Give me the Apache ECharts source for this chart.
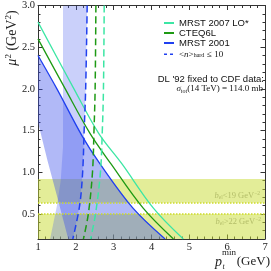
<!DOCTYPE html>
<html><head><meta charset="utf-8">
<script src="https://cdn.jsdelivr.net/npm/echarts@6/dist/echarts.min.js"></script>
<style>html,body{margin:0;padding:0;background:#fff}#c{width:271px;height:271px}</style>
</head><body><div id="c"></div>
<script>
// ---- data ----
const xTicks = [1, 2, 3, 4, 5, 6, 7];
const yTickLabels = [0.5, 1.0, 1.5, 2.0, 2.5, 3.0];
const mrst2007 = [[1.0,2.8],[1.95,2.0],[2.6,1.47],[3.22,1.1],[4.05,0.57],[4.84,0.2]];
const cteq6l   = [[1.0,2.6],[1.72,2.0],[2.37,1.47],[2.93,1.1],[3.78,0.57],[4.58,0.2]];
const mrst2001 = [[1.0,2.4],[1.5,2.0],[2.16,1.44],[2.64,1.1],[3.51,0.57],[4.36,0.2]];
const nhard2001 = [[2.30,3.0],[2.26,2.0],[2.22,1.5],[2.18,1.0],[2.1,0.6],[1.92,0.2]];
const nhardCteq = [[2.53,3.0],[2.51,2.0],[2.48,1.5],[2.44,1.0],[2.33,0.5],[2.2,0.2]];
const nhard2007 = [[2.75,3.0],[2.73,2.0],[2.7,1.5],[2.65,1.0],[2.52,0.5],[2.39,0.2]];
const verticalBandLeft = [[1.66,3.0],[1.66,1.3],[1.6,0.9],[1.5,0.6],[1.32,0.2]];
const diagBandLower = [[1.0,1.6],[1.25,1.14],[1.5,0.72],[1.8,0.2]];
const bandSmallB = [0.635, 0.92];   // b_el < 19
const bandLargeB = [0.2, 0.5];      // b_el > 22

const SERIF = '"Liberation Serif", "DejaVu Serif", serif';
const SANS = '"Liberation Sans", Arial, sans-serif';

const chart = echarts.init(document.getElementById('c'), null, {renderer: 'canvas'});

function poly(points, color, z) {
  return {
    type: 'custom', coordinateSystem: 'cartesian2d', clip: true, silent: true, z: z,
    data: [[1, 1]],
    renderItem: (params, api) => ({
      type: 'polygon',
      shape: {points: points.map(p => api.coord(p))},
      style: {fill: color}
    })
  };
}
function line(name, data, color, dashed) {
  return {
    name: name, type: 'line', data: data, smooth: 0.35, symbol: 'none', clip: true, z: 5,
    lineStyle: {color: color, width: dashed ? 1.5 : 1.3, type: dashed ? [7, 4] : 'solid'},
    itemStyle: {color: color}
  };
}

const vertPoly = verticalBandLeft.concat(nhard2001.slice().reverse());
const diagPoly = mrst2001.concat(diagBandLower.slice().reverse());

const majorY = {inside: true, length: 4.5, customValues: yTickLabels, lineStyle: {color: '#333'}};
const minorY = {inside: true, length: 2.5, lineStyle: {color: '#333'}};

const option = {
  animation: false,
  grid: {left: 38, right: 6, top: 5, bottom: 32, containLabel: false},
  xAxis: [
    {type: 'value', min: 1, max: 7, interval: 1, position: 'bottom',
     axisLine: {lineStyle: {color: '#333', width: 1}},
     axisTick: {inside: true, length: 4.5, lineStyle: {color: '#333'}},
     minorTick: {show: true, splitNumber: 5, length: 2.5, lineStyle: {color: '#333'}},
     splitLine: {show: false},
     axisLabel: {fontFamily: SERIF, fontSize: 10.5, color: '#222', margin: 3}},
    {type: 'value', min: 1, max: 7, interval: 1, position: 'top',
     axisLine: {lineStyle: {color: '#333', width: 1}},
     axisTick: {inside: true, length: 4.5, lineStyle: {color: '#333'}},
     minorTick: {show: true, splitNumber: 5, length: 2.5, lineStyle: {color: '#333'}},
     splitLine: {show: false}, axisLabel: {show: false}}
  ],
  yAxis: [
    {type: 'value', min: 0.2, max: 3.0, interval: 0.1, position: 'left',
     axisLine: {show: true, lineStyle: {color: '#333', width: 1}},
     axisTick: minorY, splitLine: {show: false},
     axisLabel: {customValues: yTickLabels, formatter: v => v.toFixed(1),
                 fontFamily: SERIF, fontSize: 10.5, color: '#222', margin: 3}},
    {type: 'value', min: 0.2, max: 3.0, position: 'left',
     axisLine: {show: false}, axisTick: majorY, splitLine: {show: false}, axisLabel: {show: false}},
    {type: 'value', min: 0.2, max: 3.0, interval: 0.1, position: 'right',
     axisLine: {show: true, lineStyle: {color: '#333', width: 1}},
     axisTick: minorY, splitLine: {show: false}, axisLabel: {show: false}},
    {type: 'value', min: 0.2, max: 3.0, position: 'right',
     axisLine: {show: false}, axisTick: majorY, splitLine: {show: false}, axisLabel: {show: false}}
  ],
  legend: {
    data: ['MRST 2007 LO*', 'CTEQ6L', 'MRST 2001', {name: 'nhard', lineStyle: {type: [3, 3], width: 1.5}}],
    orient: 'vertical', left: 158, top: 13, itemWidth: 10, itemHeight: 6, itemGap: 0,
    itemStyle: {opacity: 0},
    textStyle: {fontFamily: SANS, fontSize: 9.5, color: '#111', lineHeight: 7.4,
      rich: {
        t: {fontFamily: SERIF, fontSize: 9, lineHeight: 7.4},
        i: {fontFamily: SERIF, fontStyle: 'italic', fontSize: 9, lineHeight: 7.4},
        sub: {fontFamily: SERIF, fontSize: 6, lineHeight: 7.4, verticalAlign: 'bottom', padding: [4, 0, 0, 0]}
      }},
    formatter: n => n === 'nhard' ? '{t|<}{i|n}{t|>}{sub|hard} {t|≤ 10}' : n
  },
  series: [
    {type: 'line', data: [], silent: true, z: 1,
     markArea: {silent: true, itemStyle: {color: 'rgba(200,220,50,0.5)'},
       data: [[{yAxis: bandSmallB[0]}, {yAxis: bandSmallB[1]}],
              [{yAxis: bandLargeB[0]}, {yAxis: bandLargeB[1]}]]},
     markLine: {silent: true, symbol: 'none', label: {show: false},
       lineStyle: {color: '#cddc28', type: [1.5, 1.5], width: 1.5},
       data: [{yAxis: bandSmallB[0]}, {yAxis: bandLargeB[1]}]}},
    poly(vertPoly, 'rgba(80,100,240,0.30)', 2),
    poly(diagPoly, 'rgba(60,80,235,0.40)', 3),
    line('MRST 2007 LO*', mrst2007, '#3ce6a4', false),
    line('CTEQ6L', cteq6l, '#1e9a14', false),
    line('MRST 2001', mrst2001, '#2040f0', false),
    line('nhard', nhard2001, '#2040f0', true),
    line('nhardCteq', nhardCteq, '#1e9a14', true),
    line('nhard2007', nhard2007, '#3ce6a4', true)
  ],
  graphic: [
    {type: 'text', x: 12, y: 38, rotation: Math.PI / 2,
     style: {text: '{i|μ}{sup|2} (GeV{sup|2})', align: 'center', verticalAlign: 'middle',
       fill: '#222', font: '14px ' + SERIF,
       rich: {i: {fontFamily: SERIF, fontStyle: 'italic', fontSize: 14},
              sup: {fontFamily: SERIF, fontSize: 9, verticalAlign: 'top', padding: [0, 0, 6, 0]}}}},
    {type: 'text', x: 215, y: 262, style: {text: 'p', font: 'italic 14px ' + SERIF, fill: '#222', verticalAlign: 'middle'}},
    {type: 'text', x: 222.5, y: 267, style: {text: 't', font: 'italic 8px ' + SERIF, fill: '#222', verticalAlign: 'middle'}},
    {type: 'text', x: 222, y: 253, style: {text: 'min', font: '9px ' + SERIF, fill: '#222', verticalAlign: 'middle'}},
    {type: 'text', x: 270, y: 262, style: {text: '(GeV)', font: '13px ' + SERIF, fill: '#222', align: 'right', verticalAlign: 'middle'}},
    {type: 'text', x: 264, y: 79, style: {text: "DL '92 fixed to CDF data:", font: '9.5px ' + SANS, fill: '#111', align: 'right', verticalAlign: 'middle'}},
    {type: 'text', x: 263, y: 89,
     style: {text: '{i|σ}{sub|tot}{t|(14 TeV) = 114.0 mb}', align: 'right', verticalAlign: 'middle', fill: '#111',
       font: '9px ' + SERIF,
       rich: {t: {fontFamily: SERIF, fontSize: 9}, i: {fontFamily: SERIF, fontStyle: 'italic', fontSize: 9},
              sub: {fontFamily: SERIF, fontSize: 6, verticalAlign: 'bottom', padding: [4, 0, 0, 0]}}}},
    {type: 'text', x: 260, y: 196,
     style: {text: '{i|b}{sub|el}{t|<19 GeV}{sup|−2}', align: 'right', verticalAlign: 'middle', fill: '#a0a0a0',
       font: '8.5px ' + SERIF,
       rich: {t: {fontFamily: SERIF, fontSize: 8.5}, i: {fontFamily: SERIF, fontStyle: 'italic', fontSize: 8.5},
              sub: {fontFamily: SERIF, fontSize: 5.5, verticalAlign: 'bottom', padding: [3, 0, 0, 0]},
              sup: {fontFamily: SERIF, fontSize: 5.5, verticalAlign: 'top', padding: [0, 0, 4, 0]}}}},
    {type: 'text', x: 261, y: 222,
     style: {text: '{i|b}{sub|el}{t|>22 GeV}{sup|−2}', align: 'right', verticalAlign: 'middle', fill: '#a0a0a0',
       font: '8.5px ' + SERIF,
       rich: {t: {fontFamily: SERIF, fontSize: 8.5}, i: {fontFamily: SERIF, fontStyle: 'italic', fontSize: 8.5},
              sub: {fontFamily: SERIF, fontSize: 5.5, verticalAlign: 'bottom', padding: [3, 0, 0, 0]},
              sup: {fontFamily: SERIF, fontSize: 5.5, verticalAlign: 'top', padding: [0, 0, 4, 0]}}}}
  ]
};
chart.setOption(option);
</script></body></html>
